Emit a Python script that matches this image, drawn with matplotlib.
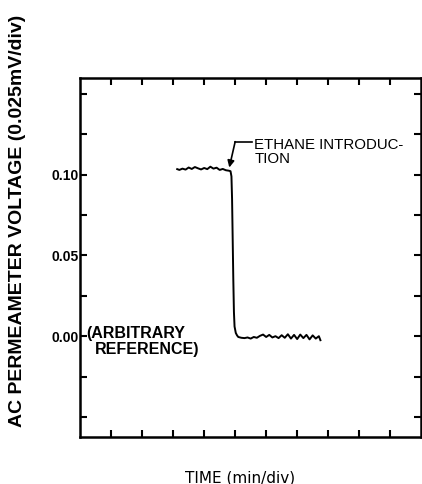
import matplotlib
matplotlib.use("Agg")
import matplotlib.pyplot as plt
import numpy as np

# trace (x in divisions, y in mV)
x_before = [3.13, 3.2, 3.3, 3.4, 3.5, 3.6, 3.7, 3.8, 3.9, 4.0, 4.1, 4.2,
            4.3, 4.4, 4.5, 4.6, 4.7, 4.8, 4.85]
y_before = [0.1035, 0.1030, 0.1038, 0.1032, 0.1045, 0.1036, 0.1048, 0.1040,
            0.1033, 0.1042, 0.1035, 0.1050, 0.1038, 0.1044, 0.1030, 0.1036,
            0.1028, 0.1025, 0.1022]
x_drop = [4.88, 4.90, 4.92, 4.94, 4.96, 4.98, 5.02, 5.06]
y_drop = [0.0990, 0.0850, 0.0600, 0.0350, 0.0150, 0.0060, 0.0020, 0.0005]
x_after = [5.1, 5.2, 5.3, 5.4, 5.5, 5.6, 5.7, 5.8, 5.9, 6.0, 6.1, 6.2, 6.3,
           6.4, 6.5, 6.6, 6.7, 6.8, 6.9, 7.0, 7.1, 7.2, 7.3, 7.4, 7.5, 7.6,
           7.7, 7.75]
y_after = [-0.0005, -0.0010, -0.0012, -0.0008, -0.0015, -0.0005, -0.0010,
           0.0002, 0.0010, -0.0005, 0.0008, -0.0008, 0.0000, -0.0012, 0.0006,
           -0.0010, 0.0012, -0.0015, 0.0008, -0.0018, 0.0010, -0.0012, 0.0008,
           -0.0020, 0.0005, -0.0015, 0.0000, -0.0025]

ytick_vals = [0.0, 0.05, 0.10]
ytick_labels = ["0.00", "0.05", "0.10"]

xs = x_before + x_drop + x_after
ys = y_before + y_drop + y_after

fig = plt.figure(figsize=(4.22, 4.84), dpi=100)
ax = fig.add_axes([0.19, 0.097, 0.808, 0.742])

ax.plot(xs, ys, color="black", lw=1.4)

ax.set_xlim(0, 11)
ax.set_ylim(-0.0625, 0.16)

ax.set_xticks(np.arange(1, 11))
ax.set_xticklabels([])
ax.set_yticks(ytick_vals)
ax.set_yticklabels(ytick_labels, fontfamily="Liberation Sans",
                   fontweight="bold", fontsize=10)
ax.set_yticks(np.arange(-0.05, 0.16, 0.025), minor=True)
ax.tick_params(which="both", direction="in", top=True, right=True,
               length=5, width=1.5, pad=1)
for sp in ax.spines.values():
    sp.set_linewidth(1.8)

ax.set_ylabel("AC PERMEAMETER VOLTAGE (0.025mV/div)",
              fontfamily="Liberation Sans", fontweight="bold", fontsize=14)
ax.yaxis.set_label_coords(-0.158, 0.603)
ax.set_xlabel("TIME (min/div)", fontfamily="DejaVu Sans", fontsize=11)
ax.xaxis.set_label_coords(0.469, -0.093)

# annotations
ax.plot([5.0, 5.55], [0.1205, 0.1205], color="black", lw=1.2)
ax.annotate("", xy=(4.81, 0.1045), xytext=(5.0, 0.1205),
            arrowprops=dict(arrowstyle="-|>", color="black", lw=1.2,
                            mutation_scale=10, shrinkA=0, shrinkB=0))
ax.text(5.62, 0.1184, "ETHANE INTRODUC-", fontfamily="Liberation Sans",
        fontsize=10.8, va="center", ha="left")
ax.text(5.62, 0.1097, "TION", fontfamily="Liberation Sans",
        fontsize=10.8, va="center", ha="left")
ax.text(0.19, 0.0017, "(ARBITRARY", fontfamily="Liberation Sans",
        fontweight="bold", fontsize=11.5, va="center", ha="left")
ax.text(0.48, -0.0083, "REFERENCE)", fontfamily="Liberation Sans",
        fontweight="bold", fontsize=11.5, va="center", ha="left")

fig.savefig("out.png", dpi=100)
